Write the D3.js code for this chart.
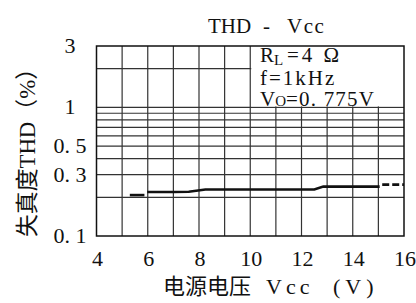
<!DOCTYPE html>
<html>
<head>
  <meta charset="utf-8" />
  <script src="https://d3js.org/d3.v7.min.js"></script>
  <style>
    body { margin: 0; background: #fff; }
    text { font-family: "Liberation Serif", "Noto Sans CJK SC", serif; fill: #111; }
  </style>
</head>
<body>
  <div id="chart"></div>
  <script>
    // values
    var xTicks = [4, 6, 8, 10, 12, 14, 16];
    var xGrid = [5, 6, 7, 8, 9, 10, 11, 12, 13, 14, 15];
    var yGrid = [0.2, 0.3, 0.4, 0.5, 0.6, 0.7, 0.8, 0.9, 1, 2];
    var yTicks = [0.1, 0.3, 0.5, 1, 3];
    var yTickText = ["0. 1", "0. 3", "0. 5", "1", "3"];

    // THD curve: short piece, solid run, dashed tail
    var startV = [5.3, 5.87];
    var startTHD = [0.208, 0.208];
    var mainV = [5.98, 7.0, 7.6, 8.25, 12.5, 12.85, 15.05];
    var mainTHD = [0.22, 0.22, 0.221, 0.23, 0.23, 0.242, 0.242];
    var tailV = [15.15, 16];
    var tailTHD = [0.251, 0.251];

    var W = 416, H = 303;
    var pLeft = 96.5, pRight = 404, pTop = 46, pBottom = 236;

    var svg = d3.select("#chart").append("svg")
      .attr("width", W).attr("height", H);

    var x = d3.scaleLinear().domain([4, 16]).range([pLeft, pRight]);
    var y = d3.scaleLog().domain([0.1, 3]).range([pBottom, pTop]);

    // grid
    svg.selectAll(".vg").data(xGrid).enter().append("line")
      .attr("x1", d => x(d)).attr("x2", d => x(d))
      .attr("y1", pTop).attr("y2", pBottom)
      .attr("stroke", "#333").attr("stroke-width", 1.2);
    svg.selectAll(".hg").data(yGrid).enter().append("line")
      .attr("x1", pLeft).attr("x2", pRight)
      .attr("y1", d => y(d)).attr("y2", d => y(d))
      .attr("stroke", "#333").attr("stroke-width", 1.2);

    // legend box blanks the top right cells
    svg.append("rect")
      .attr("x", x(10) + 1).attr("y", pTop)
      .attr("width", pRight - x(10) - 1).attr("height", y(1) - pTop - 1)
      .attr("fill", "#fff");

    // frame
    svg.append("rect")
      .attr("x", pLeft).attr("y", pTop)
      .attr("width", pRight - pLeft).attr("height", pBottom - pTop)
      .attr("fill", "none").attr("stroke", "#111").attr("stroke-width", 1.5);

    // curve
    var line = d3.line().x(d => x(d[0])).y(d => y(d[1]));
    svg.append("path").datum(d3.zip(startV, startTHD))
      .attr("d", line).attr("fill", "none")
      .attr("stroke", "#111").attr("stroke-width", 2.6);
    svg.append("path").datum(d3.zip(mainV, mainTHD))
      .attr("d", line).attr("fill", "none")
      .attr("stroke", "#111").attr("stroke-width", 2.6);
    svg.append("path").datum(d3.zip(tailV, tailTHD))
      .attr("d", line).attr("fill", "none")
      .attr("stroke", "#111").attr("stroke-width", 2.6)
      .attr("stroke-dasharray", "7,3");

    // tick labels
    svg.selectAll(".xt").data(xTicks).enter().append("text")
      .attr("x", d => x(d) + 1).attr("y", 266)
      .attr("text-anchor", "middle")
      .attr("font-size", 22)
      .text(d => d);
    svg.selectAll(".yt").data(yTicks).enter().append("text")
      .attr("x", 70).attr("y", d => y(d) + 7)
      .attr("text-anchor", "middle")
      .attr("font-size", 22)
      .text((d, i) => yTickText[i]);

    // title
    var title = svg.append("text").attr("y", 33).attr("font-size", 21);
    title.append("tspan").attr("x", 208).text("THD");
    title.append("tspan").attr("x", 263).text("-");
    title.append("tspan").attr("x", 287).attr("letter-spacing", 1.5).text("Vcc");

    // conditions
    var leg = svg.append("g").attr("font-size", 21);
    var l1 = leg.append("text").attr("x", 260).attr("y", 62);
    l1.append("tspan").text("R");
    l1.append("tspan").attr("font-size", 15).attr("dy", 3).text("L");
    l1.append("tspan").attr("x", 287).attr("dy", -3)
      .attr("letter-spacing", 3).text("=4 Ω");
    leg.append("text").attr("x", 260).attr("y", 85)
      .attr("letter-spacing", 2).text("f=1kHz");
    var l3 = leg.append("text").attr("x", 260).attr("y", 106);
    l3.append("tspan").text("V");
    l3.append("tspan").attr("font-size", 15).text("O");
    l3.append("tspan").attr("letter-spacing", 1.2).text("=0. 775V");

    // axis titles
    var xl = svg.append("text").attr("y", 294).attr("font-size", 22);
    xl.append("tspan").attr("x", 163).text("电源电压");
    xl.append("tspan").attr("x", 266).attr("letter-spacing", 4).text("Vcc");
    xl.append("tspan").attr("x", 333).attr("letter-spacing", 5).text("(V)");

    svg.append("text")
      .attr("transform", "translate(35,237) rotate(-90)")
      .attr("font-size", 23)
      .attr("textLength", 180).attr("lengthAdjust", "spacingAndGlyphs")
      .text("失真度THD（%）");
  </script>
</body>
</html>
